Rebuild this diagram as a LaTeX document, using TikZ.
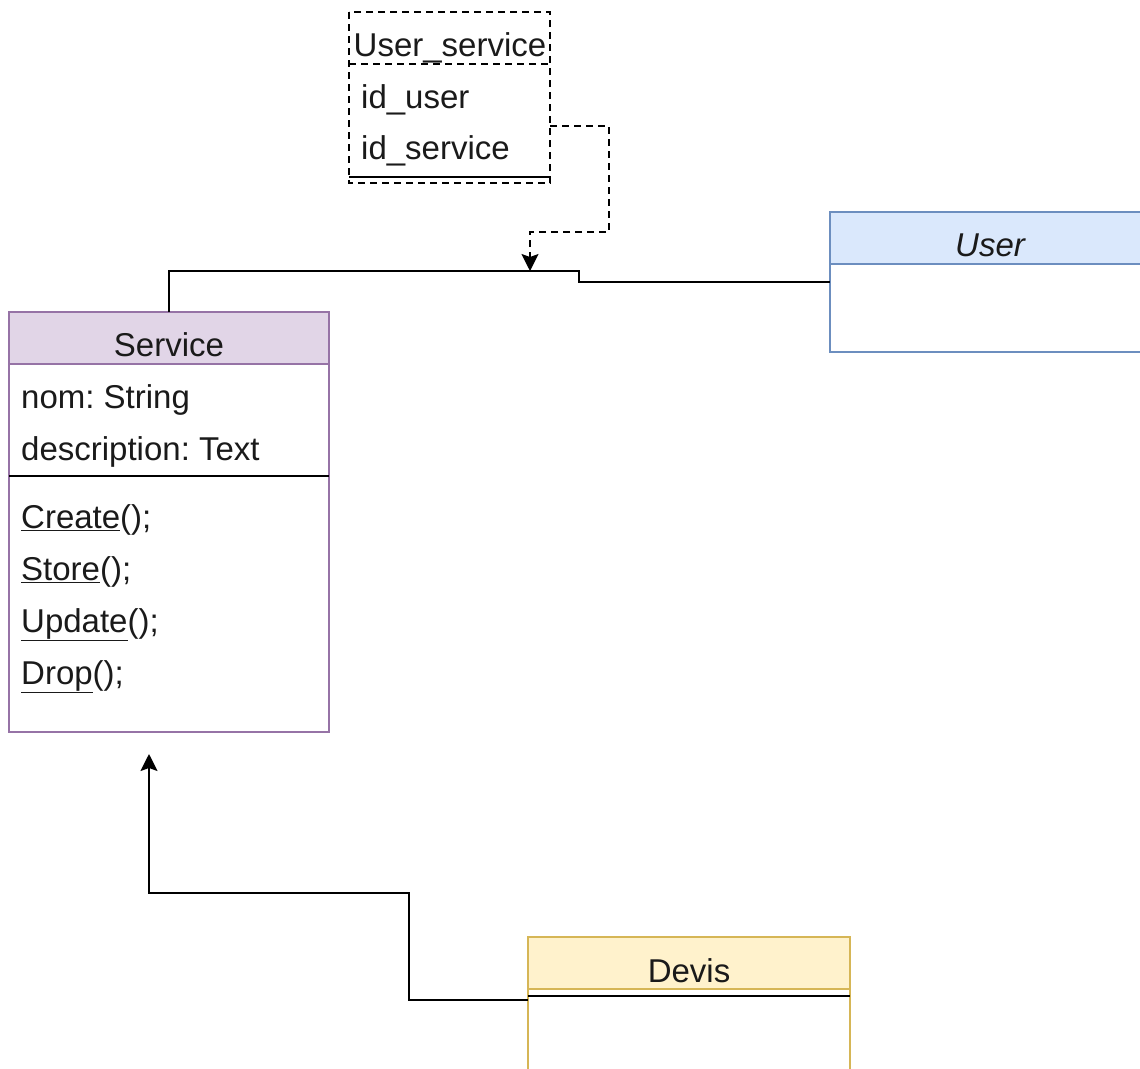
\documentclass[tikz,border=0pt]{standalone}
\usepackage{fontspec}
\setmainfont{Liberation Sans}
\usetikzlibrary{arrows.meta}
\frenchspacing
\definecolor{svcfill}{HTML}{E1D5E7}
\definecolor{svcline}{HTML}{9673A6}
\definecolor{usrfill}{HTML}{DAE8FC}
\definecolor{usrline}{HTML}{6C8EBF}
\definecolor{devfill}{HTML}{FFF2CC}
\definecolor{devline}{HTML}{D6B656}
\definecolor{txt}{HTML}{1A1A1A}
\tikzset{
  lbl/.style={font=\fontsize{33}{38}\selectfont, text=txt, inner sep=0pt},
  rowtext/.style={lbl, anchor=base west},
  headtext/.style={lbl, anchor=base},
  dsh/.style={dash pattern=on 7pt off 5pt, line width=1.4pt},
  conn/.style={line width=1.6pt, black},
  tip/.style={-{Stealth[length=17pt,width=17pt,inset=3pt]}},
}
\begin{document}
\begin{tikzpicture}[x=1pt,y=-1pt]
\useasboundingbox (0,0) rectangle (1140,1068);
\clip (0,0) rectangle (1140,1068);

% ---- User_service (dashed) ----
\draw[dsh] (349,12) rectangle (550,183);
\draw[dsh] (349,64) -- (550,64);
\draw[line width=1.6pt] (349,177) -- (550,177);
\node[headtext] (ush) at (450,56) {User\_service};
\node[rowtext] (usr1) at (361,108) {id\_user};
\node[rowtext] (usr2) at (361,159) {id\_service};
\coordinate (usR) at (550,126);

% ---- User ----
\draw[usrline, fill=usrfill, line width=1.4pt] (830,212) rectangle (1150,264);
\draw[usrline, fill=white, line width=1.4pt] (830,264) rectangle (1150,352);
\node[headtext, font=\fontsize{33}{38}\selectfont\itshape] (user) at (990,256) {User};
\coordinate (userL) at (830,282);

% ---- Service ----
\draw[svcline, fill=svcfill, line width=1.4pt] (9,312) rectangle (329,364);
\draw[svcline, fill=white, line width=1.4pt] (9,364) rectangle (329,732);
\draw[line width=1.6pt] (9,476) -- (329,476);
\node[headtext] (service) at (169,356) {Service};
\node[rowtext] (a1) at (21,408) {nom: String};
\node[rowtext] (a2) at (21,460) {description: Text};
\node[rowtext] (m1) at (21,528) {\underline{Create}();};
\node[rowtext] (m2) at (21,580) {\underline{Store}();};
\node[rowtext] (m3) at (21,632) {\underline{Update}();};
\node[rowtext] (m4) at (21,684) {\underline{Drop}();};
\coordinate (svcT) at (169,312);
\coordinate (svcB) at (149,754);

% ---- Devis ----
\draw[devline, fill=devfill, line width=1.4pt] (528,937) rectangle (850,989);
\draw[devline, fill=white, line width=1.4pt] (528,989) rectangle (850,1080);
\draw[line width=1.6pt] (528,996) -- (850,996);
\node[headtext] (devis) at (689,982) {Devis};
\coordinate (devL) at (528,1000);

% ---- connectors ----
\coordinate (assoc) at (530,271);
\draw[conn] (svcT) |- (assoc) -- (579,271) -- (579,282) -- (userL);
\draw[conn, dsh, tip] (usR) -| (609,232) -| (assoc);
\draw[conn, tip] (devL) -- (409,1000) -- (409,893) -| (svcB);
\end{tikzpicture}
\end{document}
